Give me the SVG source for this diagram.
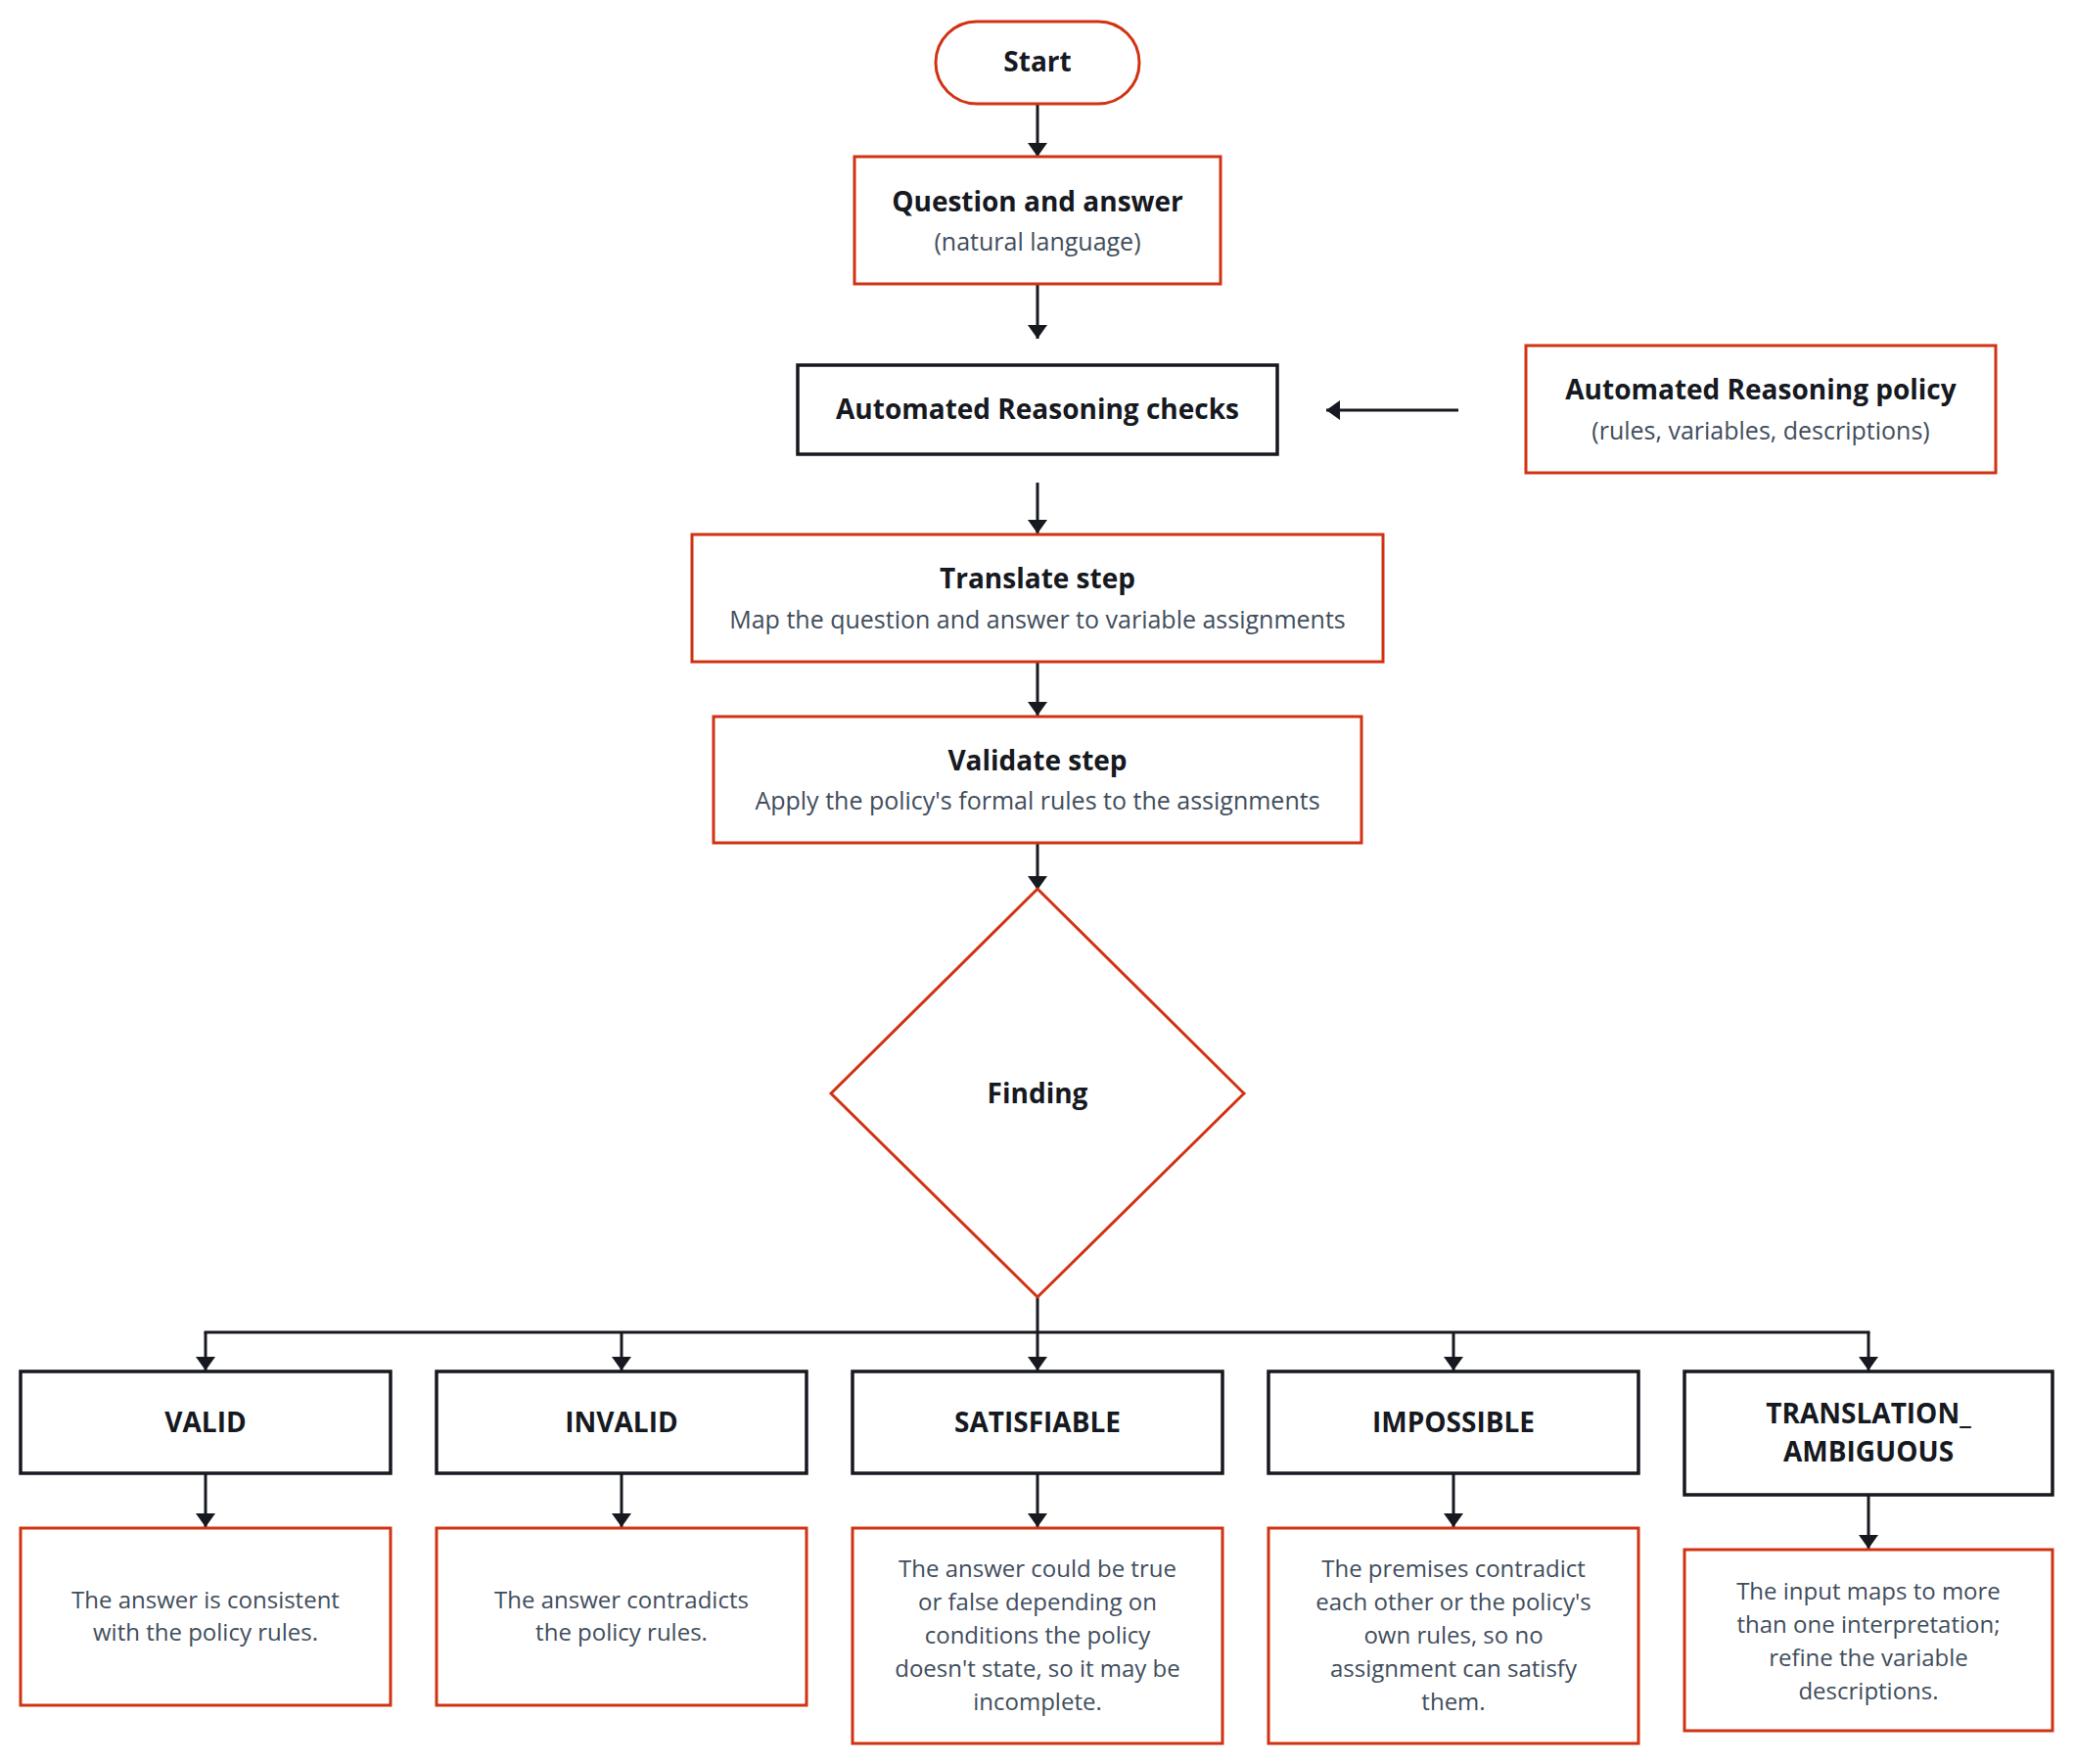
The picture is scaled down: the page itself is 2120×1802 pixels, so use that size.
<svg xmlns="http://www.w3.org/2000/svg" width="2120" height="1802" viewBox="0 0 2120 1802">
<style>
.bg{fill:#ffffff}
.red{fill:#ffffff;stroke:#d13212;stroke-width:3}
.blk{fill:#ffffff;stroke:#16191f;stroke-width:3.5}
.t{font-family:"Open Sans","Noto Sans",sans-serif;font-weight:700;font-size:28px;fill:#16191f;text-anchor:middle}
.s{font-family:"Open Sans","Noto Sans",sans-serif;font-weight:400;font-size:25px;fill:#414d5c;text-anchor:middle}
.d{font-family:"Open Sans","Noto Sans",sans-serif;font-weight:400;font-size:24px;fill:#414d5c;text-anchor:middle}
.c{fill:none;stroke:#16191f;stroke-width:3}
</style>
<defs>
<marker id="ah" viewBox="0 0 14 20" refX="14" refY="10" markerWidth="14" markerHeight="20" markerUnits="userSpaceOnUse" orient="auto">
<path d="M0,0 L14,10 L0,20 z" fill="#16191f"/>
</marker>
</defs>
<rect class="bg" x="0" y="0" width="2120" height="1802"/>

<g id="connectors">
<line class="c" x1="1060" y1="106" x2="1060" y2="160" marker-end="url(#ah)"/>
<line class="c" x1="1060" y1="290" x2="1060" y2="346" marker-end="url(#ah)"/>
<line class="c" x1="1490" y1="419" x2="1355" y2="419" marker-end="url(#ah)"/>
<line class="c" x1="1060" y1="493" x2="1060" y2="545" marker-end="url(#ah)"/>
<line class="c" x1="1060" y1="676" x2="1060" y2="731" marker-end="url(#ah)"/>
<line class="c" x1="1060" y1="861" x2="1060" y2="909" marker-end="url(#ah)"/>
<line class="c" x1="1060" y1="1320" x2="1060" y2="1361"/>
<line class="c" x1="208.5" y1="1361" x2="1910.5" y2="1361"/>
<line class="c" x1="210" y1="1361" x2="210" y2="1400" marker-end="url(#ah)"/>
<line class="c" x1="635" y1="1361" x2="635" y2="1400" marker-end="url(#ah)"/>
<line class="c" x1="1060" y1="1361" x2="1060" y2="1400" marker-end="url(#ah)"/>
<line class="c" x1="1485" y1="1361" x2="1485" y2="1400" marker-end="url(#ah)"/>
<line class="c" x1="1909" y1="1361" x2="1909" y2="1400" marker-end="url(#ah)"/>
<line class="c" x1="210" y1="1505" x2="210" y2="1560" marker-end="url(#ah)"/>
<line class="c" x1="635" y1="1505" x2="635" y2="1560" marker-end="url(#ah)"/>
<line class="c" x1="1060" y1="1505" x2="1060" y2="1560" marker-end="url(#ah)"/>
<line class="c" x1="1485" y1="1505" x2="1485" y2="1560" marker-end="url(#ah)"/>
<line class="c" x1="1909" y1="1527" x2="1909" y2="1582" marker-end="url(#ah)"/>
</g>

<g id="start">
<rect class="red" x="956" y="22" width="208" height="84" rx="42" ry="42"/>
<text class="t" x="1060" y="73">Start</text>
</g>

<g id="question">
<rect class="red" x="873" y="160" width="374" height="130"/>
<text class="t" x="1060" y="216">Question and answer</text>
<text class="s" x="1060" y="256">(natural language)</text>
</g>

<g id="arc">
<rect class="blk" x="815" y="373" width="490" height="91"/>
<text class="t" x="1060" y="428">Automated Reasoning checks</text>
</g>

<g id="policy">
<rect class="red" x="1559" y="353" width="480" height="130"/>
<text class="t" x="1799" y="408">Automated Reasoning policy</text>
<text class="s" x="1799" y="449">(rules, variables, descriptions)</text>
</g>

<g id="translate">
<rect class="red" x="707" y="546" width="706" height="130"/>
<text class="t" x="1060" y="601">Translate step</text>
<text class="s" x="1060" y="642">Map the question and answer to variable assignments</text>
</g>

<g id="validate">
<rect class="red" x="729" y="732" width="662" height="129"/>
<text class="t" x="1060" y="787">Validate step</text>
<text class="s" x="1060" y="827">Apply the policy's formal rules to the assignments</text>
</g>

<g id="finding">
<polygon class="red" points="1060,908 1271,1117 1060,1325 849,1117"/>
<text class="t" x="1060" y="1127">Finding</text>
</g>

<g id="valid">
<rect class="blk" x="21" y="1401" width="378" height="104"/>
<text class="t" x="210" y="1463">VALID</text>
</g>
<g id="invalid">
<rect class="blk" x="446" y="1401" width="378" height="104"/>
<text class="t" x="635" y="1463">INVALID</text>
</g>
<g id="satisfiable">
<rect class="blk" x="871" y="1401" width="378" height="104"/>
<text class="t" x="1060" y="1463">SATISFIABLE</text>
</g>
<g id="impossible">
<rect class="blk" x="1296" y="1401" width="378" height="104"/>
<text class="t" x="1485" y="1463">IMPOSSIBLE</text>
</g>
<g id="translation_ambiguous">
<rect class="blk" x="1721" y="1401" width="376" height="126"/>
<text class="t" x="1909" y="1454">TRANSLATION_</text>
<text class="t" x="1909" y="1493">AMBIGUOUS</text>
</g>

<g id="valid_desc">
<rect class="red" x="21" y="1561" width="378" height="181"/>
<text class="d" x="210" y="1643">The answer is consistent</text>
<text class="d" x="210" y="1676">with the policy rules.</text>
</g>
<g id="invalid_desc">
<rect class="red" x="446" y="1561" width="378" height="181"/>
<text class="d" x="635" y="1643">The answer contradicts</text>
<text class="d" x="635" y="1676">the policy rules.</text>
</g>
<g id="satisfiable_desc">
<rect class="red" x="871" y="1561" width="378" height="220"/>
<text class="d" x="1060" y="1611">The answer could be true</text>
<text class="d" x="1060" y="1645">or false depending on</text>
<text class="d" x="1060" y="1679">conditions the policy</text>
<text class="d" x="1060" y="1713">doesn't state, so it may be</text>
<text class="d" x="1060" y="1747">incomplete.</text>
</g>
<g id="impossible_desc">
<rect class="red" x="1296" y="1561" width="378" height="220"/>
<text class="d" x="1485" y="1611">The premises contradict</text>
<text class="d" x="1485" y="1645">each other or the policy's</text>
<text class="d" x="1485" y="1679">own rules, so no</text>
<text class="d" x="1485" y="1713">assignment can satisfy</text>
<text class="d" x="1485" y="1747">them.</text>
</g>
<g id="translation_ambiguous_desc">
<rect class="red" x="1721" y="1583" width="376" height="185"/>
<text class="d" x="1909" y="1634">The input maps to more</text>
<text class="d" x="1909" y="1668">than one interpretation;</text>
<text class="d" x="1909" y="1702">refine the variable</text>
<text class="d" x="1909" y="1736">descriptions.</text>
</g>
</svg>
